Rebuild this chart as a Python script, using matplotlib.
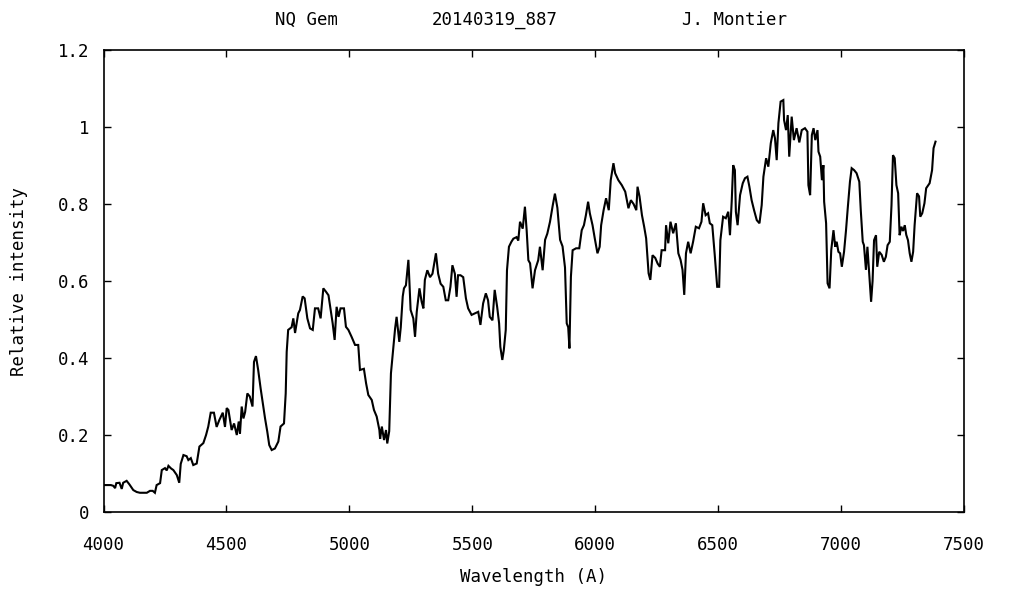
import matplotlib
matplotlib.use("Agg")
import matplotlib.pyplot as plt
import numpy as np

# Spectrum of NQ Gem (wavelength in Angstrom, relative intensity)
wavelength = [
    4000, 4006, 4030, 4040, 4047, 4052, 4065, 4074, 4080, 4094, 4105, 4121, 4135, 4148, 4176,
    4189, 4200, 4209, 4216, 4230, 4237, 4250, 4257, 4264, 4275, 4284, 4298, 4308, 4314, 4325,
    4338, 4345, 4355, 4365, 4379, 4390, 4406, 4417, 4426, 4436, 4449, 4460, 4471, 4485, 4494,
    4501, 4508, 4521, 4531, 4542, 4550,
    4555, 4562, 4569, 4576, 4585, 4595, 4606, 4612, 4620, 4629, 4639, 4647, 4657, 4666, 4674,
    4684, 4697, 4711, 4720, 4734, 4741, 4745, 4751, 4765, 4772, 4779, 4792, 4799, 4810, 4818,
    4829, 4840, 4851, 4860, 4873, 4883, 4894, 4905, 4915, 4924, 4932, 4940, 4948, 4956, 4964,
    4978, 4986, 4996, 5009, 5023, 5036, 5043, 5059, 5068, 5077, 5091, 5100, 5111, 5122,
    5125, 5132, 5141, 5149, 5154, 5162, 5169, 5179,
    5186, 5192, 5203, 5209, 5217, 5222, 5230, 5240, 5244, 5249, 5260, 5267, 5274, 5285, 5294,
    5301, 5307, 5317, 5328, 5338, 5352, 5361, 5371, 5382, 5392, 5402, 5411, 5419, 5429, 5436,
    5442, 5452, 5463, 5474, 5483, 5497, 5510, 5524, 5533, 5544, 5555, 5564, 5571, 5582, 5591,
    5601, 5609, 5614, 5622, 5628, 5636, 5641, 5649, 5659,
    5667, 5680, 5687, 5694, 5705, 5714, 5721, 5728, 5735, 5745, 5755, 5768, 5775, 5786, 5796,
    5805, 5816, 5827, 5836, 5846, 5857, 5867, 5877, 5884, 5890, 5895, 5901, 5908, 5922, 5935,
    5945, 5954, 5962, 5971, 5978, 5989, 5998, 6009, 6018, 6024, 6034, 6044, 6055, 6063,
    6074, 6081, 6094, 6108, 6122, 6135, 6145, 6156, 6167, 6172, 6180, 6190, 6199, 6207, 6217,
    6224, 6233, 6244, 6254, 6263,
    6270, 6284, 6288, 6297, 6306, 6317, 6328, 6338, 6347, 6355, 6362, 6369, 6378, 6388, 6398,
    6409, 6422, 6432, 6439, 6449, 6459, 6466, 6476, 6486, 6496, 6504, 6509, 6520, 6531, 6541,
    6548, 6555, 6561, 6568, 6572, 6579, 6589, 6600, 6609, 6619, 6627, 6636, 6646, 6657, 6668,
    6677, 6684, 6695, 6704, 6714, 6724, 6731, 6738, 6745, 6754, 6765, 6768, 6776, 6783, 6789,
    6799, 6808, 6819, 6830,
    6840, 6853, 6863, 6867, 6874, 6881, 6888, 6895, 6904, 6908, 6915, 6922, 6928, 6931, 6939,
    6945, 6953, 6960, 6969, 6976, 6982, 6989, 6996, 7003, 7012, 7020, 7027, 7036, 7043, 7053,
    7063, 7074, 7080, 7088, 7093, 7101, 7107, 7115, 7122, 7128, 7134, 7142, 7147, 7155, 7165,
    7174, 7182, 7189, 7198, 7205, 7211, 7218, 7225, 7232, 7238, 7245, 7252, 7259, 7265, 7272,
    7279, 7286, 7293, 7299, 7309, 7317, 7322, 7330, 7339, 7346, 7360, 7370, 7376, 7384,
]

intensity = [
    0.070, 0.070, 0.070, 0.068, 0.062, 0.075, 0.076, 0.060, 0.076, 0.081, 0.072, 0.057, 0.052, 0.050, 0.050,
    0.055, 0.055, 0.050, 0.070, 0.075, 0.109, 0.114, 0.108, 0.120, 0.113, 0.109, 0.096, 0.076, 0.125, 0.148,
    0.145, 0.135, 0.140, 0.122, 0.126, 0.170, 0.179, 0.200, 0.222, 0.258, 0.258, 0.221, 0.239, 0.258, 0.221,
    0.270, 0.265, 0.213, 0.230, 0.200, 0.235,
    0.204, 0.274, 0.243, 0.260, 0.308, 0.300, 0.274, 0.390, 0.405, 0.369, 0.321, 0.286, 0.243, 0.209, 0.174,
    0.161, 0.165, 0.183, 0.222, 0.230, 0.308, 0.416, 0.473, 0.480, 0.503, 0.465, 0.516, 0.525, 0.560, 0.555,
    0.503, 0.477, 0.473, 0.529, 0.529, 0.503, 0.581, 0.572, 0.563, 0.525, 0.490, 0.447, 0.533, 0.507, 0.529,
    0.529, 0.481, 0.473, 0.455, 0.434, 0.434, 0.369, 0.372, 0.334, 0.304, 0.291, 0.265, 0.248, 0.213,
    0.190, 0.222, 0.187, 0.213, 0.178, 0.210, 0.360, 0.429,
    0.477, 0.507, 0.442, 0.480, 0.560, 0.581, 0.589, 0.655, 0.600, 0.525, 0.503, 0.455, 0.520, 0.581, 0.546,
    0.529, 0.603, 0.628, 0.610, 0.619, 0.672, 0.619, 0.593, 0.585, 0.550, 0.550, 0.585, 0.641, 0.619, 0.559,
    0.615, 0.615, 0.610, 0.555, 0.529, 0.512, 0.516, 0.520, 0.486, 0.542, 0.568, 0.550, 0.507, 0.498, 0.577,
    0.533, 0.490, 0.429, 0.395, 0.420, 0.473, 0.628, 0.689, 0.702,
    0.710, 0.714, 0.705, 0.754, 0.736, 0.793, 0.732, 0.654, 0.646, 0.581, 0.628, 0.654, 0.689, 0.628, 0.707,
    0.723, 0.754, 0.796, 0.827, 0.790, 0.707, 0.690, 0.635, 0.490, 0.480, 0.425, 0.611, 0.680, 0.685, 0.685,
    0.732, 0.745, 0.771, 0.806, 0.776, 0.745, 0.711, 0.672, 0.689, 0.745, 0.784, 0.815, 0.784, 0.862,
    0.906, 0.880, 0.862, 0.849, 0.832, 0.789, 0.810, 0.800, 0.784, 0.845, 0.820, 0.771, 0.741, 0.711, 0.620,
    0.603, 0.667, 0.660, 0.645, 0.637,
    0.680, 0.680, 0.745, 0.698, 0.754, 0.724, 0.750, 0.672, 0.655, 0.629, 0.564, 0.672, 0.702, 0.672, 0.702,
    0.741, 0.737, 0.754, 0.802, 0.771, 0.776, 0.750, 0.745, 0.668, 0.585, 0.585, 0.706, 0.767, 0.763, 0.780,
    0.719, 0.806, 0.901, 0.888, 0.780, 0.745, 0.823, 0.854, 0.867, 0.871, 0.845, 0.810, 0.784, 0.758, 0.750,
    0.797, 0.871, 0.919, 0.897, 0.958, 0.992, 0.971, 0.914, 1.010, 1.066, 1.070, 1.018, 0.992, 1.031, 0.923,
    1.027, 0.966, 0.997, 0.960,
    0.992, 0.997, 0.988, 0.849, 0.823, 0.979, 0.997, 0.966, 0.992, 0.936, 0.923, 0.862, 0.901, 0.806, 0.750,
    0.594, 0.581, 0.681, 0.732, 0.689, 0.702, 0.676, 0.672, 0.637, 0.676, 0.732, 0.789, 0.858, 0.893, 0.888,
    0.880, 0.858, 0.784, 0.702, 0.693, 0.629, 0.689, 0.611, 0.546, 0.600, 0.706, 0.719, 0.637, 0.676, 0.668,
    0.650, 0.663, 0.693, 0.702, 0.797, 0.927, 0.919, 0.849, 0.828, 0.719, 0.741, 0.730, 0.745, 0.720, 0.706,
    0.672, 0.650, 0.676, 0.745, 0.828, 0.820, 0.767, 0.776, 0.802, 0.841, 0.854, 0.888, 0.945, 0.962,
]

x_ticks = [4000, 4500, 5000, 5500, 6000, 6500, 7000, 7500]
y_ticks = [0, 0.2, 0.4, 0.6, 0.8, 1.0, 1.2]
y_tick_labels = ["0", "0.2", "0.4", "0.6", "0.8", "1", "1.2"]

title_parts = ["NQ Gem", "20140319_887", "J. Montier"]

FONT = "DejaVu Sans Mono"
FS = 12.5

fig = plt.figure(figsize=(10.12, 5.92), dpi=100)
ax = fig.add_axes([0.1023, 0.1351, 0.8503, 0.7804])

ax.plot(wavelength, intensity, color="black", linewidth=1.5, solid_joinstyle="miter")

ax.set_xlim(4000, 7500)
ax.set_ylim(0, 1.2)
ax.set_xticks(x_ticks)
ax.set_yticks(y_ticks)
ax.set_yticklabels(y_tick_labels)

ax.tick_params(direction="in", top=True, right=True, length=5, width=1.0,
               labelsize=FS)
ax.tick_params(axis="x", pad=17)
ax.tick_params(axis="y", pad=10)
for lbl in ax.get_xticklabels() + ax.get_yticklabels():
    lbl.set_fontfamily(FONT)
for sp in ax.spines.values():
    sp.set_linewidth(1.2)

ax.set_xlabel("Wavelength (A)", fontfamily=FONT, fontsize=FS, labelpad=10)
ax.set_ylabel("Relative intensity", fontfamily=FONT, fontsize=FS, labelpad=22)

for xpos, txt in zip([0.303, 0.489, 0.726], title_parts):
    fig.text(xpos, 0.966, txt, ha="center", va="center", fontfamily=FONT, fontsize=FS)

fig.savefig("out.png", dpi=100)
